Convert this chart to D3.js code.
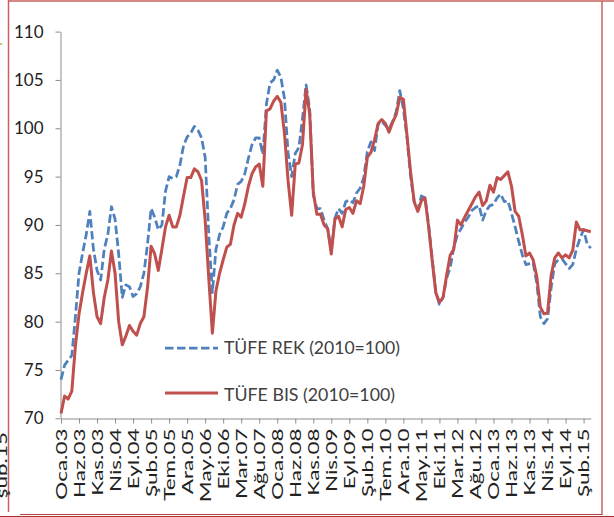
<!DOCTYPE html>
<html>
<head>
<meta charset="utf-8">
<script src="https://cdn.jsdelivr.net/npm/d3@7/dist/d3.min.js"></script>
<style>
  html, body { margin: 0; padding: 0; background: #fff; }
  svg { display: block; }
</style>
</head>
<body>
<svg id="chart" width="614" height="517"></svg>
<script>
// ---- data ----
const monthNames = ["Oca","Şub","Mar","Nis","May","Haz","Tem","Ağu","Eyl","Eki","Kas","Ara"];
const startYear = 2003, monthCount = 148; // Oca.03 .. Nis.15
const categories = [];
for (let k = 0; k < monthCount; k++) {
  const yy = startYear + Math.floor(k / 12);
  categories.push(monthNames[k % 12] + "." + String(yy % 100).padStart(2, "0"));
}
const tickLabels = ["Oca.03","Haz.03","Kas.03","Nis.04","Eyl.04","Şub.05","Tem.05","Ara.05","May.06","Eki.06",
  "Mar.07","Ağu.07","Oca.08","Haz.08","Kas.08","Nis.09","Eyl.09","Şub.10","Tem.10","Ara.10",
  "May.11","Eki.11","Mar.12","Ağu.12","Oca.13","Haz.13","Kas.13","Nis.14","Eyl.14","Şub.15"];
const yTicks = [70, 75, 80, 85, 90, 95, 100, 105, 110];
const seriesNames = ["TÜFE REK (2010=100)", "TÜFE BIS (2010=100)"];

const tufeRek = [
  74.0, 75.5, 76.0, 76.5, 80.5, 85.0, 87.1, 89.0, 91.4, 87.5,
  85.3, 84.3, 87.5, 89.0, 91.9, 90.6, 87.0, 82.5, 83.8, 83.6,
  82.6, 82.9, 83.6, 85.0, 88.0, 91.7, 90.8, 89.5, 90.0, 93.5,
  95.0, 94.8, 95.0, 96.2, 98.2, 99.1, 99.5, 100.2, 99.8, 99.0,
  97.0, 89.0, 83.0, 87.5, 89.0, 89.8, 91.2, 91.7, 92.6, 94.2,
  94.5, 95.3, 96.9, 98.3, 99.0, 99.0, 97.3, 102.5, 104.7, 105.0,
  106.0, 105.3, 103.1, 97.5, 95.0, 97.4, 98.0, 101.0, 104.5, 102.0,
  93.1, 91.7, 91.7, 90.5, 89.6, 87.3, 90.7, 91.7, 91.2, 92.4,
  92.6, 92.3, 93.3, 93.8, 94.9, 97.6, 98.6, 97.7, 100.4, 100.7,
  100.3, 99.9, 100.7, 101.7, 103.9, 102.0, 99.0, 95.0, 92.4, 91.6,
  93.0, 92.8, 90.0, 86.5, 83.0, 81.8, 82.5, 84.5, 85.6, 87.7,
  89.0, 89.6, 90.3, 90.8, 91.5, 91.8, 92.0, 90.5, 91.5, 92.0,
  92.1, 92.8, 93.2, 92.4, 92.5, 91.2, 89.8, 88.3, 86.9, 85.9,
  86.0, 86.1, 84.0, 80.5, 79.8, 80.3, 83.5, 86.0, 86.4, 86.5,
  86.0, 85.5, 85.9, 87.5, 88.6, 89.5, 88.0, 87.6
];
const tufeBis = [
  70.5, 72.3, 72.0, 72.8, 77.5, 80.8, 83.0, 85.0, 86.8, 83.0,
  80.5, 79.8, 82.5, 84.3, 87.3, 85.0, 80.0, 77.6, 78.5, 79.6,
  79.0, 78.6, 79.8, 80.5, 83.5, 87.8, 87.0, 85.3, 87.5, 89.8,
  91.0, 89.8, 89.8, 91.0, 93.0, 94.9, 94.9, 95.8, 95.5, 94.6,
  90.5, 84.5, 78.8, 83.2, 85.0, 86.4, 87.7, 88.0, 90.0, 91.2,
  90.8, 92.2, 94.0, 95.3, 96.0, 96.3, 94.0, 101.8, 102.0, 102.8,
  103.3, 102.7, 99.5, 94.6, 91.0, 96.3, 96.4, 98.3, 104.0, 101.5,
  93.4, 91.1, 91.1, 90.0, 89.6, 87.0, 90.6, 90.9, 89.8, 91.6,
  91.8, 91.2, 92.5, 92.2, 94.0, 97.0, 97.5, 98.8, 100.5, 100.9,
  100.5, 99.6, 100.6, 101.4, 103.2, 103.0, 99.3, 95.5, 92.4, 91.4,
  92.5, 92.8, 89.8, 86.3, 83.0, 82.0, 82.5, 84.8, 86.9, 87.5,
  90.5, 90.0, 90.8, 91.5, 92.2, 92.9, 93.4, 92.0, 92.5, 94.1,
  93.4, 94.9, 94.7, 95.1, 95.5, 94.0, 91.4, 90.9, 89.0, 86.8,
  87.1, 86.4, 84.7, 81.5, 80.8, 80.9, 84.8, 86.6, 87.1, 86.6,
  86.9, 86.6, 87.4, 90.3, 89.5, 89.5, 89.4, 89.3
];

// ---- chart ----
const svg = d3.select("#chart");
const FONT = "Lato, 'Open Sans', 'DejaVu Sans', sans-serif";
const frameColor = "#c9605e";

// frame
svg.append("line").attr("x1", 8).attr("y1", 1).attr("x2", 614).attr("y2", 1)
  .attr("stroke", frameColor).attr("stroke-width", 1.5);
svg.append("line").attr("x1", 8.5).attr("y1", 0).attr("x2", 8.5).attr("y2", 512)
  .attr("stroke", frameColor).attr("stroke-width", 1.5);
svg.append("line").attr("x1", 602).attr("y1", 1).attr("x2", 602).attr("y2", 515)
  .attr("stroke", frameColor).attr("stroke-width", 1.5);
svg.append("line").attr("x1", 20).attr("y1", 514.5).attr("x2", 602).attr("y2", 514.5)
  .attr("stroke", "#b84040").attr("stroke-width", 1.2);
svg.append("line").attr("x1", 0).attr("y1", 516.5).attr("x2", 614).attr("y2", 516.5)
  .attr("stroke", "#a83030").attr("stroke-width", 1.2);
// leftover from neighbouring chart
svg.append("line").attr("x1", 0).attr("y1", 44).attr("x2", 2).attr("y2", 44)
  .attr("stroke", "#9bbb59").attr("stroke-width", 1.5);
svg.append("text")
  .attr("transform", "translate(7,432) rotate(-90) scale(1.5,1)")
  .attr("text-anchor", "end")
  .attr("font-family", FONT).attr("font-size", 15).attr("fill", "#222")
  .text(tickLabels[tickLabels.length - 1].replace("Ş", "ş"));

const x = d3.scalePoint().domain(categories).range([61, 590.8]);
const y = d3.scaleLinear().domain([70, 110]).range([418.3, 31.6]);

// y axis
const yAxis = svg.append("g").attr("transform", "translate(60.5,0)")
  .call(d3.axisLeft(y).tickValues(yTicks).tickSize(5).tickSizeOuter(0).tickPadding(12));
yAxis.selectAll("path, line").attr("stroke", "#8c8c8c");
yAxis.selectAll("text").attr("font-family", FONT).attr("font-size", 17).attr("fill", "#222");

// x axis
const tickCats = categories.filter((c, i) => i % 5 === 0);
const xAxis = svg.append("g").attr("transform", "translate(0,418.5)")
  .call(d3.axisBottom(x).tickValues(tickCats).tickSize(5).tickSizeOuter(0)
    .tickFormat((d, i) => tickLabels[i]));
xAxis.selectAll("path, line").attr("stroke", "#8c8c8c");
xAxis.selectAll("text")
  .attr("x", 0).attr("y", 0).attr("dy", "0.36em")
  .attr("transform", "translate(0,10) rotate(-90) scale(1.5,1)")
  .attr("text-anchor", "end")
  .attr("font-family", FONT).attr("font-size", 15).attr("fill", "#222");

// lines
const line = d3.line().x((d, i) => x(categories[i])).y(d => y(d));
svg.append("path").datum(tufeRek).attr("d", line)
  .attr("fill", "none").attr("stroke", "#4f81bd").attr("stroke-width", 2.75)
  .attr("stroke-dasharray", "8.5,3.5").attr("stroke-linejoin", "round");
svg.append("path").datum(tufeBis).attr("d", line)
  .attr("fill", "none").attr("stroke", "#c0504d").attr("stroke-width", 3)
  .attr("stroke-linejoin", "round");

// legend
const legend = svg.append("g");
legend.append("line").attr("x1", 165).attr("x2", 218).attr("y1", 348).attr("y2", 348)
  .attr("stroke", "#4f81bd").attr("stroke-width", 2.75).attr("stroke-dasharray", "8.5,3.5");
legend.append("text").attr("x", 224).attr("y", 348).attr("dy", "0.36em")
  .attr("font-family", FONT).attr("font-size", 17).attr("fill", "#404040")
  .attr("textLength", 176).attr("lengthAdjust", "spacingAndGlyphs")
  .text(seriesNames[0]);
legend.append("line").attr("x1", 165).attr("x2", 218).attr("y1", 393).attr("y2", 393)
  .attr("stroke", "#c0504d").attr("stroke-width", 3);
legend.append("text").attr("x", 224).attr("y", 395).attr("dy", "0.36em")
  .attr("font-family", FONT).attr("font-size", 17).attr("fill", "#404040")
  .attr("textLength", 171).attr("lengthAdjust", "spacingAndGlyphs")
  .text(seriesNames[1]);
</script>
</body>
</html>
